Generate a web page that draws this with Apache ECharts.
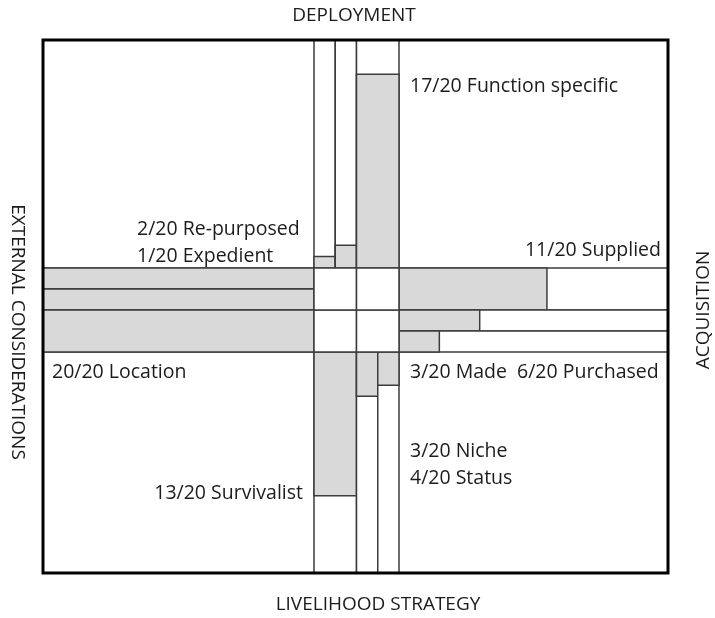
<!DOCTYPE html>
<html>
<head>
<meta charset="utf-8">
<script src="https://cdn.jsdelivr.net/npm/echarts@6/dist/echarts.min.js"></script>
<style>
  html, body { margin: 0; padding: 0; background: #fff; }
  #chart { width: 715px; height: 618px; }
</style>
</head>
<body>
<div id="chart"></div>
<script>
// Scores out of 20 for each strategy arm
const MAX_SCORE = 20;

const deploymentNames = ['Expedient', 'Re-purposed', 'Function specific'];
const deploymentScores = [1, 2, 17];

const acquisitionNames = ['Supplied', 'Purchased', 'Made'];
const acquisitionScores = [11, 6, 3];

const livelihoodNames = ['Survivalist', 'Status', 'Niche'];
const livelihoodScores = [13, 4, 3];

const externalNames = ['Location', 'Location', 'Location'];
const externalScores = [20, 20, 20];

// Lane widths across each arm (the centre square is 4 units wide)
const deploymentSpan = [1, 1, 2];
const acquisitionSpan = [2, 1, 1];
const livelihoodSpan = [2, 1, 1];
const externalSpan = [1, 1, 2];

const FILL = '#d9d9d9';
const EDGE = '#3c3c3c';
const TEXT = '#1c1c1c';
const FONT = '"Open Sans"';

function lanes(spans, scores, names) {
  let pos = 0;
  return spans.map((s, i) => {
    const item = { name: names[i], value: [pos, pos + s, scores[i]] };
    pos += s;
    return item;
  });
}

function rectFrom(a, b) {
  return {
    x: Math.min(a[0], b[0]), y: Math.min(a[1], b[1]),
    width: Math.abs(a[0] - b[0]), height: Math.abs(a[1] - b[1])
  };
}

// vertical arms: lanes along x, score along y; horizontal arms the reverse
function armRenderer(vertical) {
  return function (params, api) {
    const lo = api.value(0), hi = api.value(1), v = api.value(2);
    const pt = (lane, score) => vertical ? api.coord([lane, score]) : api.coord([score, lane]);
    const full = rectFrom(pt(lo, 0), pt(hi, MAX_SCORE));
    const bar = rectFrom(pt(lo, 0), pt(hi, v));
    return {
      type: 'group',
      children: [
        { type: 'rect', shape: full, style: { fill: '#fff', stroke: EDGE, lineWidth: 1.5 } },
        { type: 'rect', shape: bar, style: { fill: FILL, stroke: EDGE, lineWidth: 1.5 } }
      ]
    };
  };
}

const hidden = { show: false };
function valAxis(gi, min, max, inverse) {
  return { gridIndex: gi, type: 'value', min, max, inverse: !!inverse,
    axisLine: hidden, axisTick: hidden, axisLabel: hidden, splitLine: hidden };
}

const W = 715, H = 618;
const frame = { l: 43, t: 40, r: 668, b: 573 };
const core = { l: 314, t: 268, r: 399, b: 352 };

const grids = [
  // 0 deployment (up)
  { left: core.l, right: W - core.r, top: frame.t, bottom: H - core.t },
  // 1 livelihood (down)
  { left: core.l, right: W - core.r, top: core.b, bottom: H - frame.b },
  // 2 acquisition (right)
  { left: core.r, right: W - frame.r, top: core.t, bottom: H - core.b },
  // 3 external (left)
  { left: frame.l, right: W - core.l, top: core.t, bottom: H - core.b },
  // 4 centre
  { left: core.l, right: W - core.r, top: core.t, bottom: H - core.b }
];

const xAxes = [
  valAxis(0, 0, 4), valAxis(1, 0, 4),
  valAxis(2, 0, MAX_SCORE), valAxis(3, 0, MAX_SCORE, true),
  valAxis(4, 0, 2)
];
const yAxes = [
  valAxis(0, 0, MAX_SCORE), valAxis(1, 0, MAX_SCORE, true),
  valAxis(2, 0, 4, true), valAxis(3, 0, 4, true),
  valAxis(4, 0, 2)
];

function arm(gi, vertical, data) {
  return { type: 'custom', xAxisIndex: gi, yAxisIndex: gi, clip: false,
    renderItem: armRenderer(vertical), data, silent: true };
}

const centreCells = [[0, 0], [1, 0], [0, 1], [1, 1]];

const series = [
  arm(0, true, lanes(deploymentSpan, deploymentScores, deploymentNames)),
  arm(1, true, lanes(livelihoodSpan, livelihoodScores, livelihoodNames)),
  arm(2, false, lanes(acquisitionSpan, acquisitionScores, acquisitionNames)),
  arm(3, false, lanes(externalSpan, externalScores, externalNames)),
  { type: 'custom', xAxisIndex: 4, yAxisIndex: 4, clip: false, silent: true,
    data: centreCells,
    renderItem: (p, api) => ({
      type: 'rect',
      shape: rectFrom(api.coord([api.value(0), api.value(1)]), api.coord([api.value(0) + 1, api.value(1) + 1])),
      style: { fill: '#fff', stroke: EDGE, lineWidth: 1.5 }
    }) }
];

const LABEL_FONT = '19.5px ' + FONT;
const AXIS_FONT = '19px ' + FONT;

function label(text, x, y, opts) {
  return Object.assign({
    type: 'text', x, y, z: 10,
    style: Object.assign({ text, fill: TEXT, font: LABEL_FONT, verticalAlign: 'middle', align: 'left' }, (opts && opts.style) || {})
  }, opts && opts.rotation !== undefined ? { rotation: opts.rotation } : {});
}

const s = (v, n) => v + '/' + MAX_SCORE + ' ' + n;

const graphics = [
  { type: 'rect', z: 20, shape: { x: frame.l, y: frame.t, width: frame.r - frame.l, height: frame.b - frame.t },
    style: { fill: null, stroke: '#000', lineWidth: 3 } },
  label('DEPLOYMENT', 354, 16, { style: { align: 'center', font: AXIS_FONT } }),
  label('LIVELIHOOD STRATEGY', 378, 605, { style: { align: 'center', font: AXIS_FONT } }),
  label('EXTERNAL CONSIDERATIONS', 17, 332, { rotation: -Math.PI / 2, style: { align: 'center', font: AXIS_FONT } }),
  label('ACQUISITION', 704, 310, { rotation: Math.PI / 2, style: { align: 'center', font: AXIS_FONT } }),
  label(s(deploymentScores[2], deploymentNames[2]), 410, 86),
  label(s(deploymentScores[1], deploymentNames[1]), 137, 229),
  label(s(deploymentScores[0], deploymentNames[0]), 137, 256),
  label(s(acquisitionScores[0], acquisitionNames[0]), 661, 250, { style: { align: 'right' } }),
  label(s(acquisitionScores[2], acquisitionNames[2]) + '  ' + s(acquisitionScores[1], acquisitionNames[1]), 410, 372),
  label(s(externalScores[0], externalNames[0]), 52, 372),
  label(s(livelihoodScores[2], livelihoodNames[2]), 410, 451),
  label(s(livelihoodScores[1], livelihoodNames[1]), 410, 478),
  label(s(livelihoodScores[0], livelihoodNames[0]), 303, 493, { style: { align: 'right' } })
];

const chart = echarts.init(document.getElementById('chart'));
chart.setOption({
  animation: false,
  backgroundColor: '#fff',
  grid: grids,
  xAxis: xAxes,
  yAxis: yAxes,
  series,
  graphic: graphics
});
</script>
</body>
</html>
